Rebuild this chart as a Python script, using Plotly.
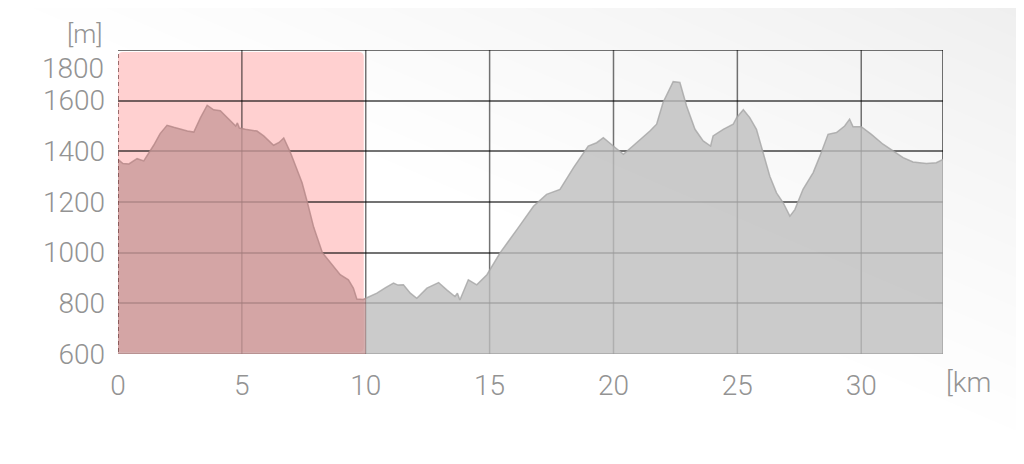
import base64
import struct
import zlib

import numpy as np
import plotly.graph_objects as go

# ---------------- data ----------------
KM = [0.0, 0.2, 0.44, 0.77, 1.04, 1.2, 1.44, 1.7, 1.98, 2.25, 2.52, 2.8, 3.06,
      3.33, 3.6, 3.86, 4.13, 4.35, 4.54, 4.75, 4.82, 4.9, 5.14, 5.61, 5.88,
      6.1, 6.28, 6.5, 6.69, 6.96, 7.2, 7.43, 7.64, 7.9, 8.25, 8.7, 8.97, 9.3,
      9.5, 9.64, 9.9, 10.0, 10.45, 10.8, 11.12, 11.3, 11.52, 11.8, 12.06,
      12.47, 12.94, 13.27, 13.6, 13.7, 13.8, 14.14, 14.48, 14.89, 15.42, 16.1,
      16.77, 17.3, 17.84, 18.38, 18.98, 19.32, 19.59, 19.99, 20.4, 20.93,
      21.47, 21.74, 22.0, 22.41, 22.68, 22.95, 23.29, 23.62, 23.92, 24.02,
      24.43, 24.83, 24.97, 25.24, 25.5, 25.77, 26.04, 26.31, 26.58, 26.85,
      27.12, 27.32, 27.65, 28.06, 28.33, 28.66, 29.0, 29.33, 29.53, 29.67,
      30.0, 30.41, 30.88, 31.28, 31.69, 32.09, 32.63, 33.03, 33.3]
ELEV = [1368, 1352, 1350, 1371, 1362, 1385, 1424, 1470, 1503, 1495, 1487,
        1480, 1476, 1533, 1582, 1564, 1560, 1540, 1520, 1500, 1512, 1492,
        1487, 1480, 1461, 1440, 1424, 1435, 1453, 1395, 1335, 1276, 1200,
        1100, 1000, 946, 913, 893, 860, 817, 815, 820, 840, 862, 880, 872,
        873, 840, 820, 860, 882, 853, 827, 840, 813, 893, 873, 913, 999, 1091,
        1183, 1230, 1250, 1335, 1421, 1434, 1454, 1421, 1388, 1434, 1480,
        1507, 1593, 1675, 1672, 1579, 1487, 1441, 1421, 1461, 1487, 1507,
        1533, 1564, 1533, 1487, 1395, 1302, 1236, 1197, 1144, 1170, 1250,
        1316, 1381, 1467, 1474, 1500, 1527, 1497, 1497, 1467, 1428, 1401,
        1375, 1358, 1352, 1355, 1368]

X_TICKS = [0, 5, 10, 15, 20, 25, 30]
Y_TICKS = [600, 800, 1000, 1200, 1400, 1600, 1800]
X_MAX = 33.3
SECTION_START, SECTION_END = 0, 10     # highlighted section [km]
X_UNIT = "[km"
Y_UNIT = "[m]"

# ---------------- styling ----------------
# the page body has an 8px margin, so the figure is sized to end at the
# window edge and the margins are reduced by the same offset
OFF = 8
W, H = 1024 - OFF, 464 - OFF
ML, MR, MT, MB = 118 - OFF, 81, 50 - OFF, 110
PW, PH = W - ML - MR, H - MT - MB
TEXT_COLOR = "#939393"
FAMILY = "Roboto, Lato, 'Open Sans', sans-serif"
FONT = dict(family=FAMILY, size=28, color=TEXT_COLOR, weight=300)
UNIT_FONT = dict(family=FAMILY, size=26, color=TEXT_COLOR, weight=300)
GRID = "rgba(0,0,0,0.55)"


def png_uri(arr):
    h, w, _ = arr.shape
    raw = b"".join(b"\x00" + arr[i].tobytes() for i in range(h))

    def chunk(t, d):
        return (struct.pack(">I", len(d)) + t + d +
                struct.pack(">I", zlib.crc32(t + d) & 0xFFFFFFFF))
    png = (b"\x89PNG\r\n\x1a\n" +
           chunk(b"IHDR", struct.pack(">IIBBBBB", w, h, 8, 2, 0, 0, 0)) +
           chunk(b"IDAT", zlib.compress(raw, 9)) + chunk(b"IEND", b""))
    return "data:image/png;base64," + base64.b64encode(png).decode()


# background card: light grey sheen in the top-right, rounded corner
yy, xx = np.mgrid[0:H, 0:W].astype(float)
xx += OFF
yy += OFF
t = np.clip((1015 - xx) / 1000.0 + yy / 430.0, 0, 1)
val = 239 + 16 * t ** 0.85
card_right, rad = 1022, 16
cx, cy = card_right - rad, rad
outside = (xx > card_right) | ((xx > cx) & (yy < cy) &
                               ((xx - cx) ** 2 + (yy - cy) ** 2 > rad ** 2))
val[outside] = 255
img = np.repeat(np.clip(val, 0, 255).astype(np.uint8)[:, :, None], 3, axis=2)
bg_uri = png_uri(img)

# ---------------- traces ----------------
sec_x = [k for k in KM if k <= SECTION_END]
sec_y = [e for k, e in zip(KM, ELEV) if k <= SECTION_END]
rest_x = [k for k in KM if k >= SECTION_END]
rest_y = [e for k, e in zip(KM, ELEV) if k >= SECTION_END]

fig = go.Figure()
fig.add_trace(go.Scatter(
    x=rest_x, y=rest_y, mode="lines", fill="tozeroy",
    fillcolor="rgba(190,190,190,0.8)",
    line=dict(color="rgba(165,165,165,0.8)", width=1.5),
    hoverinfo="skip", showlegend=False))
fig.add_trace(go.Scatter(
    x=sec_x, y=sec_y, mode="lines", fill="tozeroy",
    fillcolor="rgba(201,154,154,0.8)",
    line=dict(color="rgba(180,135,135,0.8)", width=1.5),
    hoverinfo="skip", showlegend=False))

# ---------------- shapes ----------------
y0, y1 = Y_TICKS[0], Y_TICKS[-1]
px_per_km = PW / X_MAX
px_per_m = PH / (y1 - y0)
ix, iy = 2 / px_per_km, 2 / px_per_m
rx, ry = 5 / px_per_km, 5 / px_per_m
a0, a1 = SECTION_START, SECTION_END - ix
b0, b1 = y0 + iy, y1 - iy
path = (f"M {a0+rx},{b1} L {a1-rx},{b1} Q {a1},{b1} {a1},{b1-ry} "
        f"L {a1},{b0+ry} Q {a1},{b0} {a1-rx},{b0} L {a0+rx},{b0} "
        f"Q {a0},{b0} {a0},{b0+ry} L {a0},{b1-ry} Q {a0},{b1} {a0+rx},{b1} Z")
shapes = [dict(type="path", path=path, xref="x", yref="y",
               fillcolor="rgb(255,208,208)", line=dict(width=0), layer="below")]
for v in X_TICKS[1:]:
    shapes.append(dict(type="line", xref="x", yref="y", x0=v, x1=v,
                       y0=y0, y1=y1, line=dict(color=GRID, width=1.5),
                       layer="below"))
# frame: right edge, top edge, bottom edge
shapes.append(dict(type="line", xref="x", yref="y", x0=X_MAX, x1=X_MAX,
                   y0=y0, y1=y1, line=dict(color=GRID, width=2),
                   layer="below"))
shapes.append(dict(type="line", xref="x", yref="y", x0=0, x1=X_MAX,
                   y0=y1, y1=y1, line=dict(color=GRID, width=2),
                   layer="below"))
shapes.append(dict(type="line", xref="x", yref="y", x0=0, x1=X_MAX,
                   y0=y0, y1=y0, line=dict(color=GRID, width=2),
                   layer="below"))
shapes.append(dict(type="line", xref="x", yref="y", x0=SECTION_START,
                   x1=SECTION_START, y0=b0, y1=b1,
                   line=dict(color="rgba(100,50,50,0.85)", width=1.5,
                             dash="4px,3px"),
                   layer="above"))

annotations = [
    dict(text=str(Y_TICKS[-1]), xref="paper", yref="y", x=0, y=Y_TICKS[-1],
         xanchor="right", yanchor="middle", xshift=-12, yshift=-18,
         showarrow=False, font=FONT),
    dict(text=Y_UNIT, xref="paper", yref="paper", x=0, y=1,
         xanchor="right", yanchor="middle", xshift=-13, yshift=16,
         showarrow=False, font=UNIT_FONT),
    dict(text=X_UNIT, xref="paper", yref="paper", x=1, y=0,
         xanchor="left", yanchor="middle", xshift=1, yshift=-28,
         showarrow=False, font=FONT),
]

fig.update_layout(
    width=W, height=H, autosize=False,
    margin=dict(l=ML, r=MR, t=MT, b=MB, pad=0),
    paper_bgcolor="white", plot_bgcolor="rgba(0,0,0,0)",
    images=[dict(source=bg_uri, xref="paper", yref="paper",
                 x=-ML / PW, y=1 + MT / PH, sizex=W / PW, sizey=H / PH,
                 xanchor="left", yanchor="top", sizing="stretch",
                 layer="below")],
    shapes=shapes, annotations=annotations,
    xaxis=dict(range=[0, X_MAX], tickvals=X_TICKS,
               ticktext=[str(v) for v in X_TICKS], showgrid=False,
               zeroline=False, showline=False, ticks="",
               ticklabelstandoff=12, tickfont=FONT, fixedrange=True),
    yaxis=dict(range=[y0, y1], tickvals=Y_TICKS,
               ticktext=[str(v) for v in Y_TICKS[:-1]] + [""],
               showgrid=True, gridcolor=GRID, gridwidth=1.5,
               zeroline=False, showline=False, ticks="",
               ticklabelstandoff=12, tickfont=FONT, fixedrange=True),
    showlegend=False,
)

fig.write_html("out.html")
